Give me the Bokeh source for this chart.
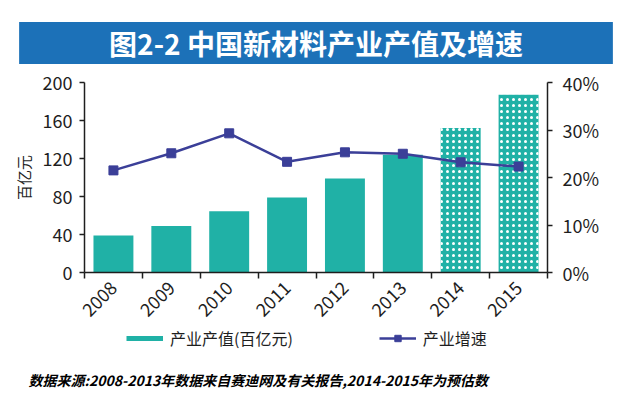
import math
from bokeh.plotting import figure
from bokeh.layouts import column
from bokeh.models import (Range1d, LinearAxis, FixedTicker, PrintfTickFormatter,
                          ColumnDataSource, Legend, LegendItem, Title)
from bokeh.embed import file_html
from bokeh.resources import INLINE

# ---------------- data ----------------
years = ["2008", "2009", "2010", "2011", "2012", "2013", "2014", "2015"]
output_value = [39, 49, 64.5, 79, 99, 124, 152, 187]          # 百亿元
growth_pct = [21.5, 25.1, 29.3, 23.3, 25.3, 25.0, 23.2, 22.3]  # %
estimated = [False, False, False, False, False, False, True, True]
left_ticks = [0, 40, 80, 120, 160, 200]
right_ticks = [0, 10, 20, 30, 40]

title_text = "图2-2 中国新材料产业产值及增速"
bar_label = "产业产值(百亿元)"
line_label = "产业增速"
y_label = "百亿元"
note_text = "数据来源:2008-2013年数据来自赛迪网及有关报告,2014-2015年为预估数"

FONT = "Noto Sans CJK SC"
TEAL = "#20B1A6"
NAVY = "#3B3F98"
BLUE = "#1C71B8"
INK = "#1e1e1e"

n = len(years)
xs = [i + 0.5 for i in range(n)]
src = ColumnDataSource(dict(
    x=xs, top=output_value, pct=growth_pct,
    hatch=["dot" if e else " " for e in estimated],
))

# ---------------- main chart ----------------
p = figure(width=640, height=326, x_range=Range1d(0, n), y_range=Range1d(0, left_ticks[-1]),
           toolbar_location=None, output_backend="svg",
           min_border_left=84, min_border_right=93, min_border_top=82, min_border_bottom=54)
p.extra_y_ranges = {"pct": Range1d(0, right_ticks[-1])}
p.grid.visible = False
p.outline_line_color = None
p.background_fill_color = "white"

band = Title(text=title_text, align="center", offset=4, standoff=33, vertical_align="top",
             text_font=FONT, text_font_size="28px", text_font_style="bold",
             text_color="white", background_fill_color=BLUE, padding=(90, 1))
p.add_layout(band, "above")

p.vbar(x="x", top="top", width=0.69, source=src, fill_color=TEAL, line_color=None,
       hatch_pattern="hatch", hatch_color="white", hatch_scale=6, hatch_weight=1)
p.line(x="x", y="pct", source=src, y_range_name="pct", line_color=NAVY, line_width=2.5)
p.scatter(x="x", y="pct", source=src, y_range_name="pct", marker="square", size=9,
          fill_color=NAVY, line_color=NAVY)

xa = p.xaxis[0]
xa.ticker = FixedTicker(ticks=xs, minor_ticks=list(range(n + 1)))
xa.major_label_overrides = {x: y for x, y in zip(xs, years)}
xa.major_tick_in = 0
xa.major_tick_out = 0
xa.minor_tick_in = 0
xa.minor_tick_out = 6
xa.major_label_orientation = math.pi / 4
xa.major_label_standoff = 6

ya = p.yaxis[0]
ya.ticker = FixedTicker(ticks=left_ticks)
ya.axis_label = y_label
ya.axis_label_text_font_size = "15px"
ya.axis_label_text_font_style = "normal"
ya.axis_label_standoff = 6
ya.major_tick_in = 0
ya.major_tick_out = 5
ya.minor_tick_out = 0
ya.minor_tick_in = 0
ya.major_label_standoff = 7

ra = LinearAxis(y_range_name="pct", ticker=FixedTicker(ticks=right_ticks),
                formatter=PrintfTickFormatter(format="%d%%"))
ra.major_tick_in = 0
ra.major_tick_out = 5
ra.minor_tick_out = 0
ra.minor_tick_in = 0
ra.major_label_standoff = 10
p.add_layout(ra, "right")

for ax in [xa, ya, ra]:
    ax.axis_line_color = INK
    ax.axis_line_width = 1.5
    ax.major_tick_line_color = INK
    ax.major_tick_line_width = 1.5
    ax.minor_tick_line_color = INK
    ax.minor_tick_line_width = 1.5
    ax.major_label_text_font = FONT
    ax.major_label_text_font_size = "18px"
    ax.major_label_text_color = INK
    ax.axis_label_text_font = FONT
    ax.axis_label_text_color = INK

# ---------------- footer: legend + source note ----------------
f = figure(width=640, height=84, x_range=Range1d(0, 1), y_range=Range1d(0, 1),
           toolbar_location=None, output_backend="svg",
           x_axis_location=None, y_axis_location=None,
           min_border_left=84, min_border_right=93, min_border_top=0, min_border_bottom=47)
f.grid.visible = False
f.outline_line_color = None
f.background_fill_color = "white"

# legend-only renderers (hidden; they only supply the legend swatches)
sw_bar = f.line(x="x", y="pct", source=src, line_color=TEAL, line_width=5, visible=False)
sw_line = f.line(x="x", y="pct", source=src, line_color=NAVY, line_width=2.5, visible=False)
sw_mark = f.scatter(x="x", y="pct", source=src, marker="square", size=9,
                    fill_color=NAVY, line_color=NAVY, visible=False)

legend = Legend(items=[LegendItem(label=bar_label, renderers=[sw_bar]),
                       LegendItem(label=line_label, renderers=[sw_line, sw_mark])],
                orientation="horizontal", location=(42, 13),
                glyph_width=37, glyph_height=16, label_height=16, label_standoff=7,
                spacing=86, padding=0, margin=0, border_line_color=None,
                background_fill_alpha=0, inactive_fill_alpha=0,
                label_text_font=FONT, label_text_font_size="16px", label_text_color=INK)
f.add_layout(legend, "center")

note = Title(text=note_text, align="left", offset=-56, standoff=8,
             text_font=FONT, text_font_size="14px", text_font_style="bold italic",
             text_color="black")
f.add_layout(note, "below")

layout = column(p, f, spacing=0)
open("out.html", "w").write(file_html(layout, INLINE))
